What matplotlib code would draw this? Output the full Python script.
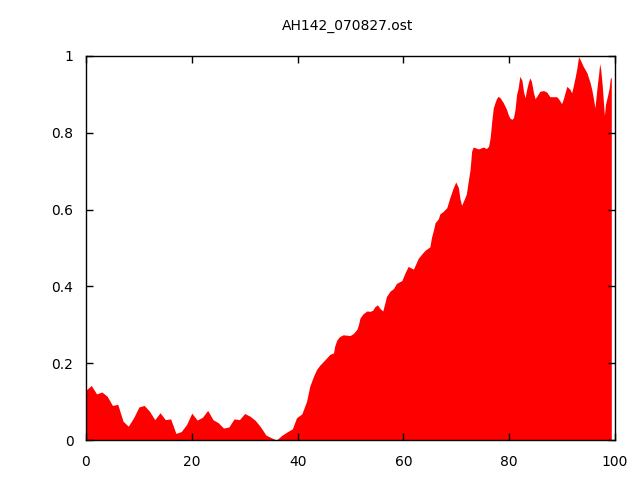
import matplotlib
matplotlib.use('Agg')
import matplotlib.pyplot as plt

# 값은 그림에서 읽은 추정치
x_vals = [0, 1, 2, 3, 4, 5, 6, 7, 8, 9, 10, 11, 12, 13, 14, 15, 16, 17, 18, 19,
          20, 21, 22, 23, 24, 25, 26, 27, 28, 29, 30, 31, 32, 33, 34, 35, 36, 37, 38, 39,
          39.8, 40.8, 41.7, 42.3, 43.0, 43.6, 44.2, 44.9, 45.5, 46.1, 46.8, 47.0, 47.4, 47.9,
          48.6, 49.9, 50.5, 51.2, 51.5, 51.8, 52.4, 53.1, 53.7, 54.2, 54.6, 55.1, 55.6, 56.1,
          56.5, 56.8, 57.5, 58.1, 58.7, 59.7, 60.3, 60.9, 61.9, 62.8, 63.5, 64.1, 65.0, 65.3,
          65.7, 66.0, 66.6, 66.9, 67.5, 68.2, 68.8, 69.4, 69.9, 70.4, 70.7, 71.0, 71.6, 71.9,
          72.3, 72.6, 72.9, 73.2, 74.2, 75.1, 75.7, 76.1, 76.4, 76.7, 77.0, 77.3, 77.6, 77.9,
          78.3, 78.9, 79.5, 79.8, 80.1, 80.5, 80.8, 81.1, 81.4, 81.7, 82.0, 82.4, 82.7, 83.0,
          83.3, 83.6, 83.9, 84.2, 84.6, 84.9, 85.2, 85.8, 86.5, 87.1, 87.7, 89.0, 89.3, 89.9,
          90.2, 90.9, 91.5, 91.8, 92.1, 92.5, 92.8, 93.1, 93.4, 94.0, 94.7, 95.3, 95.6, 95.9,
          96.2, 96.6, 96.9, 97.1, 97.3, 97.6, 97.8, 98.0, 98.2, 98.6, 98.9, 99.1, 99.3]
y_vals = [0.130, 0.142, 0.120, 0.125, 0.114, 0.090, 0.093, 0.049, 0.036, 0.058,
          0.086, 0.090, 0.075, 0.053, 0.071, 0.053, 0.055, 0.017, 0.022, 0.040,
          0.070, 0.052, 0.059, 0.077, 0.053, 0.045, 0.031, 0.034, 0.055, 0.053,
          0.069, 0.062, 0.051, 0.034, 0.013, 0.006, 0.000, 0.012, 0.021, 0.029,
          0.058, 0.068, 0.101, 0.140, 0.166, 0.184, 0.195, 0.205, 0.214, 0.223, 0.227, 0.244,
          0.260, 0.269, 0.274, 0.272, 0.277, 0.288, 0.300, 0.318, 0.329, 0.336, 0.335, 0.338,
          0.347, 0.352, 0.342, 0.336, 0.357, 0.374, 0.388, 0.394, 0.408, 0.415, 0.435, 0.452,
          0.445, 0.473, 0.485, 0.494, 0.503, 0.527, 0.548, 0.566, 0.576, 0.589, 0.595, 0.605,
          0.632, 0.656, 0.672, 0.657, 0.628, 0.611, 0.630, 0.641, 0.678, 0.704, 0.752, 0.763,
          0.758, 0.763, 0.759, 0.765, 0.787, 0.830, 0.865, 0.878, 0.889, 0.895, 0.891, 0.878,
          0.861, 0.848, 0.839, 0.835, 0.839, 0.861, 0.900, 0.917, 0.947, 0.937, 0.908, 0.891,
          0.913, 0.930, 0.943, 0.934, 0.904, 0.889, 0.895, 0.908, 0.910, 0.906, 0.894, 0.894,
          0.889, 0.876, 0.887, 0.921, 0.913, 0.904, 0.921, 0.947, 0.969, 0.998, 0.991, 0.973,
          0.956, 0.930, 0.913, 0.891, 0.865, 0.917, 0.952, 0.980, 0.965, 0.921, 0.882, 0.845,
          0.874, 0.897, 0.917, 0.941, 0.945]
x_ticks = [0, 20, 40, 60, 80, 100]
y_ticks = [0, 0.2, 0.4, 0.6, 0.8, 1]
y_tick_labels = ['0', '0.2', '0.4', '0.6', '0.8', '1']
title = 'AH142_070827.ost'

fig = plt.figure(figsize=(6.4, 4.8), dpi=100)
ax = fig.add_axes([86 / 640, 1 - 440 / 480, (615 - 86) / 640, (440 - 56) / 480])

ax.fill_between(x_vals, 0, y_vals, color='#ff0000', linewidth=0)

ax.set_xlim(0, 100)
ax.set_ylim(0, 1)
ax.set_xticks(x_ticks)
ax.set_yticks(y_ticks)
ax.set_yticklabels(y_tick_labels)
ax.tick_params(direction='in', length=5, width=1, top=True, right=True,
               labelsize=10, colors='black')
ax.tick_params(axis='x', pad=11)
ax.tick_params(axis='y', pad=9)
for s in ax.spines.values():
    s.set_linewidth(1)
    s.set_color('black')

fig.text(0.543, 1 - 26 / 480, title, ha='center', va='center', fontsize=10)

fig.savefig('out.png', dpi=100)
